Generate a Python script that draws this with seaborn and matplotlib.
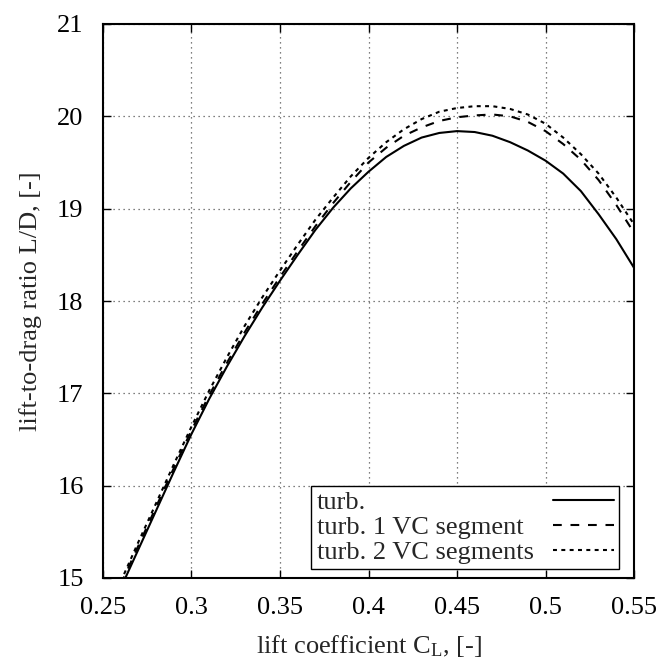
import numpy as np
import pandas as pd
import matplotlib
matplotlib.use("Agg")
import matplotlib.pyplot as plt
import seaborn as sns

# ---- data ----
cl = [0.26, 0.27, 0.28, 0.29, 0.30, 0.31, 0.32, 0.33, 0.34, 0.35,
      0.36, 0.37, 0.38, 0.39, 0.40, 0.41, 0.42, 0.43, 0.44, 0.45,
      0.46, 0.47, 0.48, 0.49, 0.50, 0.51, 0.52, 0.53, 0.54, 0.55]
ld_turb = [14.89, 15.31, 15.73, 16.15, 16.56, 16.94, 17.29, 17.62, 17.93, 18.22,
           18.50, 18.77, 19.01, 19.22, 19.40, 19.56, 19.68, 19.77, 19.82, 19.84,
           19.83, 19.79, 19.72, 19.63, 19.52, 19.38, 19.19, 18.94, 18.67, 18.36]
ld_vc1 = [14.93, 15.35, 15.77, 16.19, 16.60, 16.98, 17.33, 17.66, 17.97, 18.26,
          18.54, 18.81, 19.06, 19.29, 19.50, 19.66, 19.79, 19.88, 19.95, 19.99,
          20.01, 20.02, 20.00, 19.94, 19.84, 19.70, 19.53, 19.31, 19.04, 18.74]
ld_vc2 = [14.96, 15.39, 15.81, 16.23, 16.64, 17.03, 17.39, 17.73, 18.04, 18.33,
          18.61, 18.88, 19.12, 19.35, 19.55, 19.72, 19.86, 19.97, 20.05, 20.09,
          20.11, 20.11, 20.08, 20.02, 19.92, 19.77, 19.59, 19.38, 19.12, 18.83]
series_names = ["turb.", "turb. 1 VC segment", "turb. 2 VC segments"]
x_ticks = [0.25, 0.3, 0.35, 0.4, 0.45, 0.5, 0.55]
x_tick_labels = ["0.25", "0.3", "0.35", "0.4", "0.45", "0.5", "0.55"]
y_ticks = [15, 16, 17, 18, 19, 20, 21]

df = pd.concat([
    pd.DataFrame({"CL": cl, "LD": vals, "series": name})
    for name, vals in zip(series_names, [ld_turb, ld_vc1, ld_vc2])
], ignore_index=True)

sns.set_theme(style="ticks")
plt.rcParams["font.family"] = ["Liberation Serif", "DejaVu Serif"]
plt.rcParams["mathtext.fontset"] = "custom"
plt.rcParams["mathtext.rm"] = "Liberation Serif"
plt.rcParams["mathtext.it"] = "Liberation Serif:italic"

FS = 19

fig = plt.figure(figsize=(6.62, 6.59), dpi=100)
ax = fig.add_axes([103 / 662, 81 / 659, 531 / 662, 554 / 659])

sns.lineplot(data=df, x="CL", y="LD", hue="series", style="series",
             hue_order=series_names, style_order=series_names,
             palette=["black", "black", "black"],
             dashes={"turb.": "", "turb. 1 VC segment": (4.2, 4.2),
                     "turb. 2 VC segments": (1.9, 2.1)},
             linewidth=1.5, sort=False, ax=ax, legend=True)

ax.set_xlim(0.25, 0.55)
ax.set_ylim(15, 21)
ax.set_xticks(x_ticks)
ax.set_xticklabels(x_tick_labels)
ax.set_yticks(y_ticks)
ax.set_yticklabels([str(v) for v in y_ticks])

ax.grid(True, color="#555555", linestyle=(0, (1, 3)), linewidth=0.9)
ax.set_axisbelow(True)

for sp in ax.spines.values():
    sp.set_visible(True)
    sp.set_linewidth(1.5)
    sp.set_color("black")

ax.tick_params(direction="in", length=6, width=1.0, top=True, right=True,
               labelsize=FS, colors="black")
ax.tick_params(axis="y", pad=14)
ax.tick_params(axis="x", pad=14)

ax.set_xlabel(r"lift coefficient C$_\mathregular{L}$, [-]", fontsize=FS, labelpad=10)
ax.set_ylabel("lift-to-drag ratio L/D, [-]", fontsize=FS, labelpad=11)

handles, labels = ax.get_legend_handles_labels()
if ax.get_legend() is not None:
    ax.get_legend().remove()
leg = ax.legend(handles, labels, loc="lower right", bbox_to_anchor=(0.972, 0.016),
                borderaxespad=0, markerfirst=False, fontsize=FS, frameon=True,
                fancybox=False, framealpha=1, edgecolor="black",
                handlelength=2.3, handletextpad=1.0, labelspacing=0.05,
                borderpad=0.2)
leg.get_frame().set_linewidth(1.0)
for line in leg.get_lines():
    line.set_linewidth(1.5)

# align legend texts left while keeping sample lines right-aligned
fig.canvas.draw()
renderer = fig.canvas.get_renderer()
texts = leg.get_texts()
widths = [t.get_window_extent(renderer).width for t in texts]
wmax = max(widths)
column = leg._legend_handle_box.get_children()[0]
rows = column.get_children()
base_sep = 14
for row, w in zip(rows, widths):
    row.sep = base_sep + (wmax - w) * 72.0 / fig.dpi

fig.savefig("out.png", dpi=100)
